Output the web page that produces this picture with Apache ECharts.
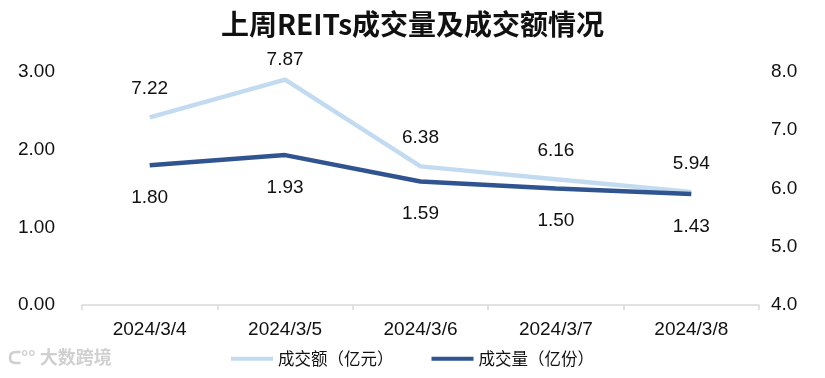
<!DOCTYPE html>
<html><head><meta charset="utf-8">
<script src="https://cdn.jsdelivr.net/npm/echarts@6/dist/echarts.min.js"></script>
<style>html,body{margin:0;padding:0;background:#fff}#c{width:825px;height:378px}</style>
</head><body><div id="c"></div>
<script>
const categories = ['2024/3/4','2024/3/5','2024/3/6','2024/3/7','2024/3/8'];
const amountValues = [7.22, 7.87, 6.38, 6.16, 5.94];
const volumeValues = [1.80, 1.93, 1.59, 1.50, 1.43];
const amountName = '成交额（亿元）';
const volumeName = '成交量（亿份）';
const titleText = '上周REITs成交量及成交额情况';
const watermarkText = '大数跨境';

const FONT = '"Liberation Sans", "Noto Sans CJK SC", sans-serif';
const chart = echarts.init(document.getElementById('c'));
// the 7.87 label sits closer to its point (below the title)
const amountData = amountValues.map((v, i) => i === 1 ? { value: v, label: { distance: 10 } } : v);
chart.setOption({
  animation: false,
  backgroundColor: '#fff',
  title: {
    text: titleText, left: 'center', top: 5,
    textStyle: { fontFamily: '"Noto Sans CJK SC", sans-serif', fontWeight: 'bold', fontSize: 28, color: '#111' }
  },
  legend: {
    bottom: 6, left: 'center', itemWidth: 42, itemHeight: 4, itemGap: 38,
    icon: 'rect',
    textStyle: { fontFamily: '"Noto Sans CJK SC", sans-serif', fontSize: 16.5, color: '#111' },
    data: [amountName, volumeName]
  },
  grid: { left: 82, right: 66, top: 72, bottom: 73 },
  xAxis: {
    type: 'category', data: categories, boundaryGap: true,
    axisLine: { lineStyle: { color: '#D9D9D9', width: 1.5 } },
    axisTick: { show: true, length: 5, lineStyle: { color: '#D9D9D9', width: 1.5 } },
    axisLabel: { fontFamily: FONT, fontSize: 19, color: '#111', margin: 15 }
  },
  yAxis: [
    { type: 'value', min: 0, max: 3, interval: 1, splitLine: { show: false },
      axisLine: { show: false }, axisTick: { show: false },
      axisLabel: { fontFamily: FONT, fontSize: 19, color: '#111', margin: 27, formatter: v => v.toFixed(2) } },
    { type: 'value', min: 4, max: 8, interval: 1, splitLine: { show: false },
      axisLine: { show: false }, axisTick: { show: false },
      axisLabel: { fontFamily: FONT, fontSize: 19, color: '#111', margin: 12, formatter: v => v.toFixed(1) } }
  ],
  series: [
    { name: amountName, type: 'line', yAxisIndex: 1, data: amountData,
      symbol: 'circle', symbolSize: 0.01, showSymbol: true,
      lineStyle: { color: '#C3DBF1', width: 4.5 }, itemStyle: { color: '#C3DBF1' },
      label: { show: true, position: 'top', distance: 19, fontFamily: FONT, fontSize: 19, color: '#111', formatter: p => Number(p.value).toFixed(2) } },
    { name: volumeName, type: 'line', yAxisIndex: 0, data: volumeValues,
      symbol: 'circle', symbolSize: 0.01, showSymbol: true,
      lineStyle: { color: '#2F5490', width: 4.5 }, itemStyle: { color: '#2F5490' },
      label: { show: true, position: 'bottom', distance: 23, fontFamily: FONT, fontSize: 19, color: '#111', formatter: p => Number(p.value).toFixed(2) } }
  ],
  graphic: [
    { type: 'text', left: 8, top: 348, style: { text: 'ᑕ°° ' + watermarkText, fill: '#D0D0D0', fontSize: 18, fontFamily: '"Noto Sans CJK SC", sans-serif', fontWeight: 'bold' } }
  ]
});
</script></body></html>
